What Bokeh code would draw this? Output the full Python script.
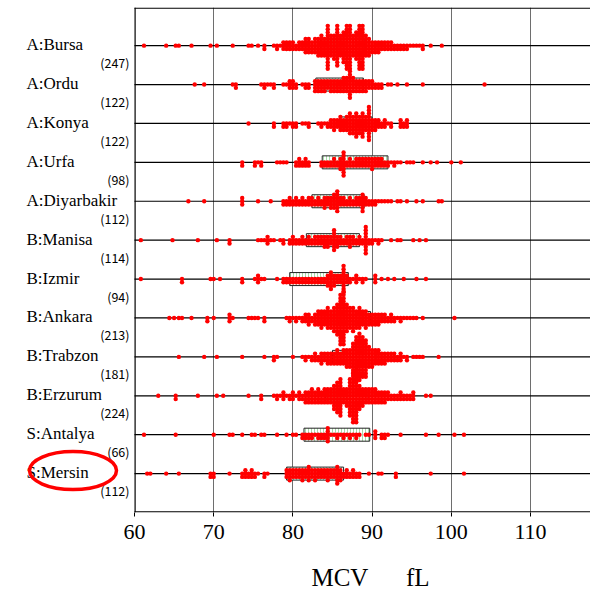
from bokeh.plotting import figure
from bokeh.models import Range1d, FixedTicker
from bokeh.core.properties import value
from bokeh.embed import file_html
from bokeh.resources import INLINE

# ---------------- data ----------------
groups = ["A:Bursa", "A:Ordu", "A:Konya", "A:Urfa", "A:Diyarbakir", "B:Manisa",
          "B:Izmir", "B:Ankara", "B:Trabzon", "B:Erzurum", "S:Antalya", "S:Mersin"]
n_labels = ["(247)", "(122)", "(122)", "(98)", "(112)", "(114)",
            "(94)", "(213)", "(181)", "(224)", "(66)", "(112)"]
box_lo = [83.5, 82.9, 85.9, 83.7, 82.4, 81.7, 79.6, 84.0, 85.0, 84.1, 81.4, 79.2]
box_hi = [89.0, 88.9, 90.0, 92.0, 89.0, 88.4, 87.0, 89.8, 90.5, 89.5, 89.7, 86.4]
x_ticks = [60, 70, 80, 90, 100, 110]

bursa_v = [61.2, 64.0, 65.2, 65.6, 67.2, 69.6, 70.4, 72.4, 74.4, 74.8, 75.6, 76.4, 77.6, 78.0, 78.4,
           78.8, 79.2, 79.6, 80.0, 80.4, 80.8, 81.2, 81.6, 82.0, 82.4, 82.8,
           83.2, 83.6, 84.0, 84.4, 84.8, 85.2, 85.6, 86.0, 86.4, 86.8, 87.2, 87.6, 88.0, 88.4, 88.8, 89.2, 89.6,
           90.0, 90.4, 90.8, 91.2, 91.6, 92.0, 92.4, 92.8, 93.2, 93.6, 94.0, 94.4, 94.8, 95.2, 95.6, 96.0, 96.4, 97.4, 98.8]
bursa_c = [1, 1, 1, 1, 1, 1, 1, 1, 1, 1, 1, 2, 1, 2, 1,
           3, 3, 3, 3, 2, 3, 3, 5, 5, 4, 5,
           6, 7, 6, 14, 7, 8, 13, 7, 10, 14, 14, 7, 9, 14, 14, 7, 6,
           4, 4, 4, 3, 3, 3, 3, 2, 2, 2, 2, 2, 1, 1, 1, 1, 2, 1, 1]

ordu_v = [67.6, 68.8, 72.4, 72.8, 76.0, 76.4, 76.8, 77.2, 77.6, 78.8, 79.2, 79.6, 80.0, 80.4, 81.2, 81.6, 82.0,
          82.8, 83.2, 83.6, 84.0, 84.4, 84.8, 85.2, 85.6, 86.0, 86.4, 86.8, 87.2, 87.6, 88.0, 88.4, 88.8, 89.2, 89.6,
          90.0, 90.4, 90.8, 91.2, 92.0, 92.4, 93.2, 94.4, 96.4, 104.2]
ordu_c = [1, 1, 1, 2, 1, 2, 1, 1, 2, 1, 1, 3, 3, 2, 1, 2, 2,
          4, 4, 4, 4, 3, 4, 4, 4, 4, 5, 5, 9, 5, 4, 4, 4, 4, 3,
          3, 2, 2, 2, 1, 1, 1, 1, 1, 1]

konya_v = [74.4, 77.6, 78.8, 79.2, 79.6, 80.0, 80.4, 81.2, 81.6, 82.0, 83.2, 83.6, 84.0, 84.4, 84.8, 85.2, 85.6, 86.0,
           86.4, 86.8, 87.2, 87.6, 88.0, 88.4, 88.8, 89.2, 89.6, 90.0, 90.4,
           90.8, 91.2, 91.6, 92.0, 92.4, 93.6, 94.0, 94.4]
konya_c = [1, 2, 2, 2, 1, 2, 2, 1, 1, 2, 1, 2, 1, 2, 3, 4, 3, 5,
           4, 5, 7, 6, 8, 6, 8, 5, 11, 4, 4,
           3, 2, 3, 1, 2, 3, 2, 3]

urfa_v = [73.6, 75.2, 75.6, 76.0, 78.0, 78.4, 78.8, 79.2, 80.4, 80.8, 81.2, 81.6, 82.0,
          83.6, 84.0, 84.4, 84.8, 85.2, 85.6, 86.0, 86.4, 86.8, 87.2, 87.6, 88.0, 88.4, 88.8, 89.2, 89.6,
          90.0, 90.4, 90.8, 91.2, 91.6, 92.0,
          92.4, 92.8, 93.2, 93.6, 94.4, 94.8, 95.2, 96.4, 97.4, 98.2, 100.0, 101.2]
urfa_c = [2, 2, 1, 2, 1, 1, 1, 1, 2, 3, 2, 3, 2,
          2, 2, 2, 2, 3, 2, 4, 8, 2, 3, 2, 3, 3, 3, 3, 3,
          4, 3, 3, 3, 2, 2,
          1, 2, 1, 1, 1, 1, 1, 1, 1, 1, 1, 1]

diyar_v = [66.8, 68.8, 73.6, 75.6, 77.2, 78.8, 79.2, 79.6, 80.0, 80.4, 80.8, 81.2, 81.6, 82.0,
           82.4, 82.8, 83.2, 83.6, 84.0, 84.4, 84.8, 85.2, 85.6, 86.0, 86.4, 86.8, 87.2, 87.6, 88.0, 88.4, 88.8,
           89.2, 89.6, 90.0, 90.4, 90.8, 91.2, 91.6, 92.0, 92.4, 93.2, 93.6, 94.4, 95.6, 96.4, 98.4, 98.8]
diyar_c = [1, 1, 3, 1, 1, 2, 2, 3, 2, 3, 2, 3, 2, 3,
           3, 2, 3, 2, 4, 3, 4, 5, 7, 3, 3, 2, 3, 2, 3, 3, 6,
           3, 2, 2, 2, 1, 1, 1, 1, 1, 1, 1, 1, 1, 1, 1, 1]

manisa_v = [60.8, 64.8, 68.0, 70.4, 72.0, 75.6, 76.0, 76.4, 76.8, 77.2, 77.6, 78.4, 78.8, 79.6, 80.0, 80.4, 80.8, 81.2,
            81.6, 82.0, 82.4, 82.8, 83.2, 83.6, 84.0, 84.4, 84.8, 85.2, 85.6, 86.0, 86.4, 86.8, 87.2, 87.6, 88.0, 88.4,
            88.8, 89.2, 89.6, 90.0, 90.4, 90.8, 91.2, 92.4, 93.2, 93.6, 95.2, 96.0, 96.8]
manisa_c = [1, 1, 1, 1, 2, 1, 1, 1, 3, 1, 1, 1, 2, 2, 3, 2, 2, 3,
            2, 3, 2, 3, 3, 3, 4, 4, 3, 7, 4, 3, 2, 3, 4, 3, 2, 3,
            2, 9, 2, 2, 1, 2, 1, 1, 1, 1, 1, 1, 1]

izmir_v = [60.8, 66.0, 69.6, 70.0, 70.8, 73.6, 75.2, 75.6, 76.0, 76.4, 78.0, 78.8, 79.2,
           79.6, 80.0, 80.4, 80.8, 81.2, 81.6, 82.0, 82.4, 82.8, 83.2, 83.6, 84.0, 84.4, 84.8, 85.2, 85.6, 86.0, 86.4, 86.8,
           87.2, 87.6, 88.0, 88.4, 88.8, 89.2, 90.4, 91.2, 92.0, 92.8, 94.0, 95.6, 96.8]
izmir_c = [1, 2, 1, 1, 1, 2, 1, 3, 1, 1, 1, 2, 2,
           2, 2, 2, 2, 2, 2, 2, 2, 2, 2, 2, 2, 4, 6, 4, 3, 3, 9, 3,
           2, 1, 3, 1, 2, 1, 3, 1, 1, 1, 1, 1, 1]

ankara_v = [64.4, 65.0, 65.6, 66.0, 67.2, 69.2, 70.0, 72.0, 72.4, 74.4, 74.8, 75.2, 75.6, 76.4,
            79.2, 79.6, 80.0, 80.4, 80.8, 81.2, 81.6, 82.0, 82.4, 82.8,
            83.2, 83.6, 84.0, 84.4, 84.8, 85.2, 85.6, 86.0, 86.4, 86.8, 87.2, 87.6, 88.0, 88.4, 88.8, 89.2, 89.6,
            90.0, 90.4, 90.8, 91.2, 91.6, 92.0, 92.4, 92.8, 93.2, 93.6, 94.0, 94.4, 94.8, 95.2, 95.6, 96.4, 100.4]
ankara_c = [1, 1, 1, 1, 1, 2, 1, 3, 1, 1, 1, 1, 1, 2,
            1, 2, 1, 2, 1, 2, 3, 4, 2, 4,
            5, 6, 5, 7, 6, 8, 10, 16, 17, 9, 7, 8, 6, 7, 5, 6, 4,
            4, 4, 4, 3, 3, 2, 3, 2, 1, 2, 1, 1, 1, 1, 1, 1, 1]

trabzon_v = [65.6, 68.8, 70.4, 73.6, 76.4, 77.6, 78.0, 80.0, 81.2, 81.6, 82.0, 82.4, 82.8, 83.2, 83.6,
             84.0, 84.4, 84.8, 85.2, 85.6, 86.0, 86.4, 86.8, 87.2, 87.6, 88.0, 88.4, 88.8, 89.2, 89.6,
             90.0, 90.4, 90.8, 91.2, 91.6, 92.0, 92.4,
             92.8, 93.2, 93.6, 94.0, 94.4, 95.2, 95.6, 96.0, 96.4, 98.4]
trabzon_c = [1, 1, 1, 1, 1, 2, 1, 1, 1, 2, 1, 2, 3, 2, 4,
             3, 4, 4, 4, 5, 4, 5, 6, 6, 10, 14, 15, 13, 12, 7,
             6, 5, 5, 4, 4, 3, 3,
             3, 2, 3, 1, 2, 1, 1, 1, 1, 1]

erzurum_v = [63.0, 65.2, 68.0, 70.4, 71.2, 74.4, 76.0, 77.6, 78.0, 78.4, 78.8, 79.2, 79.6, 80.0, 80.4, 80.8, 81.2,
             81.6, 82.0, 82.4, 82.8, 83.2, 83.6,
             84.0, 84.4, 84.8, 85.2, 85.6, 86.0, 86.4, 86.8, 87.2, 87.6, 88.0, 88.4, 88.8, 89.2, 89.6,
             90.0, 90.4, 90.8, 91.2, 91.6, 92.0, 92.4, 92.8, 93.2, 93.6,
             94.0, 94.4, 94.8, 95.2, 96.8, 97.4]
erzurum_c = [1, 2, 1, 1, 1, 1, 2, 1, 2, 1, 3, 1, 2, 3, 1, 3, 2,
             4, 4, 5, 4, 5, 4,
             5, 5, 5, 8, 10, 12, 5, 6, 12, 16, 17, 8, 6, 5, 5,
             5, 5, 4, 4, 4, 3, 2, 2, 2, 3,
             2, 2, 2, 3, 1, 1]

antalya_v = [61.2, 65.2, 70.0, 72.0, 72.4, 73.6, 74.8, 75.2, 76.0, 76.4, 78.0, 79.2, 80.0, 80.4,
             81.2, 81.6, 82.0, 82.4, 82.8, 83.2, 83.6, 84.0, 84.4, 84.8, 85.2, 85.6, 86.0, 86.4, 86.8, 87.2, 87.6,
             88.0, 88.4, 89.2, 89.6,
             90.4, 91.2, 91.6, 92.0, 93.6, 96.8, 98.4, 100.4, 101.6]
antalya_c = [1, 1, 1, 1, 1, 1, 1, 1, 1, 1, 1, 1, 1, 1,
             2, 2, 2, 2, 1, 2, 2, 2, 5, 1, 1, 2, 1, 2, 1, 2, 1,
             2, 1, 1, 1,
             3, 2, 2, 1, 1, 1, 1, 1, 1]

mersin_v = [61.6, 62.0, 64.0, 65.6, 69.6, 70.0, 72.0, 73.6, 74.0, 74.4, 74.8, 75.2, 75.6, 76.4, 76.8,
            79.2, 79.6, 80.0, 80.4, 80.8, 81.2, 81.6, 82.0, 82.4, 82.8, 83.2, 83.6, 84.0, 84.4, 84.8, 85.2, 85.6, 86.0, 86.4,
            86.8, 87.2, 87.6, 88.0, 88.4, 89.6, 90.8, 91.2, 93.0, 97.4, 101.6]
mersin_c = [1, 1, 1, 1, 2, 2, 1, 2, 3, 2, 3, 2, 1, 2, 1,
            3, 4, 3, 3, 3, 4, 3, 5, 3, 4, 3, 3, 3, 4, 3, 3, 6, 4, 2,
            3, 2, 3, 2, 2, 1, 1, 1, 2, 1, 1]

values = [bursa_v, ordu_v, konya_v, urfa_v, diyar_v, manisa_v,
          izmir_v, ankara_v, trabzon_v, erzurum_v, antalya_v, mersin_v]
counts = [bursa_c, ordu_c, konya_c, urfa_c, diyar_c, manisa_c,
          izmir_c, ankara_c, trabzon_c, erzurum_c, antalya_c, mersin_c]

# ---------------- layout ----------------
W, H = 590, 594
AXIS_PX = 134                  # pixel column of x = 60
PX_PER_UNIT = 7.92             # pixels per fL
B_TOP, B_BOTTOM = 7, 82
X0 = 60
XL = X0 - AXIS_PX / PX_PER_UNIT
X1 = X0 + (W - AXIS_PX) / PX_PER_UNIT
Y0, Y1 = 0.0, 12.98
px_per_y = (H - B_TOP - B_BOTTOM) / (Y1 - Y0)
ROW = 3.3 / px_per_y           # vertical step of stacked dots


def px_x(px):
    return X0 + (px - AXIS_PX) / PX_PER_UNIT


ngroups = len(groups)
ypos = [ngroups - i for i in range(ngroups)]   # Bursa on top

p = figure(width=W, height=H, x_range=Range1d(XL, X1), y_range=Range1d(Y0, Y1),
           output_backend="svg", toolbar_location=None,
           min_border_left=0, min_border_right=0,
           min_border_top=B_TOP, min_border_bottom=B_BOTTOM)
p.outline_line_color = None
p.yaxis.visible = False
p.ygrid.visible = False

p.xgrid.ticker = FixedTicker(ticks=[70, 80, 90, 100, 110])
p.xgrid.grid_line_color = "#6e6e6e"
p.xgrid.grid_line_width = 1

p.xaxis.ticker = FixedTicker(ticks=x_ticks)
p.xaxis.axis_line_color = None
p.xaxis.major_tick_line_color = "black"
p.xaxis.major_tick_out = 4
p.xaxis.major_tick_in = 0
p.xaxis.minor_tick_line_color = None
p.xaxis.major_label_text_font = "Liberation Serif"
p.xaxis.major_label_text_font_size = "22px"
p.xaxis.major_label_text_color = "black"
p.xaxis.major_label_standoff = 8
nb = "\u00a0"
p.xaxis.axis_label = nb * 24 + "MCV" + nb * 6 + "fL"
p.xaxis.axis_label_text_font = "Liberation Serif"
p.xaxis.axis_label_text_font_size = "25px"
p.xaxis.axis_label_text_font_style = "normal"
p.xaxis.axis_label_text_color = "black"
p.xaxis.axis_label_standoff = 22

# frame lines: group lines, left axis, top and bottom borders
p.segment(x0=[X0] * ngroups, x1=[X1] * ngroups, y0=ypos, y1=ypos, line_color="black", line_width=1.2)
p.segment(x0=[X0 + 0.6 / PX_PER_UNIT], x1=[X0 + 0.6 / PX_PER_UNIT], y0=[Y0], y1=[Y1],
          line_color="black", line_width=1.2)
p.segment(x0=[X0, X0], x1=[X1, X1], y0=[Y0 + 0.6 / px_per_y, Y1 - 0.6 / px_per_y],
          y1=[Y0 + 0.6 / px_per_y, Y1 - 0.6 / px_per_y], line_color="black", line_width=1.2)

# boxes
box_half = 6.5 / px_per_y
p.quad(left=box_lo, right=box_hi,
       bottom=[y - box_half for y in ypos], top=[y + box_half for y in ypos],
       fill_color="white", hatch_pattern="vertical_line", hatch_color="#a8dca8",
       hatch_scale=3, hatch_weight=1, line_color="#222222", line_width=1)

# stacked dots
xs, ys = [], []
for g, vals, cnts in zip(ypos, values, counts):
    for v, c in zip(vals, cnts):
        for j in range(c):
            k = (j + 1) // 2
            off = -k if j % 2 == 1 else k
            xs.append(v)
            ys.append(g + off * ROW)
p.scatter(xs, ys, size=4.4, fill_color="#ff0000", line_color=None)

# group names and sample sizes
p.text(x=[px_x(26)] * ngroups, y=[g + 1.0 / px_per_y for g in ypos], text=groups,
       text_font=value("Liberation Serif"), text_font_size=value("17px"),
       text_baseline="middle", text_align="left", text_color="black")
p.text(x=[px_x(129)] * ngroups, y=[g - 17.0 / px_per_y for g in ypos], text=n_labels,
       text_font=value("Noto Sans CJK JP"), text_font_size=value("12.5px"),
       text_baseline="middle", text_align="right", text_color="black")

# red ellipse highlighting S:Mersin
p.ellipse(x=[px_x(72.5)], y=[ypos[-1] + 3.0 / px_per_y], width=[87 / PX_PER_UNIT],
          height=[38.0 / px_per_y], fill_color=None, line_color="#ff0000", line_width=3.5)

open("out.html", "w").write(file_html(p, INLINE))
